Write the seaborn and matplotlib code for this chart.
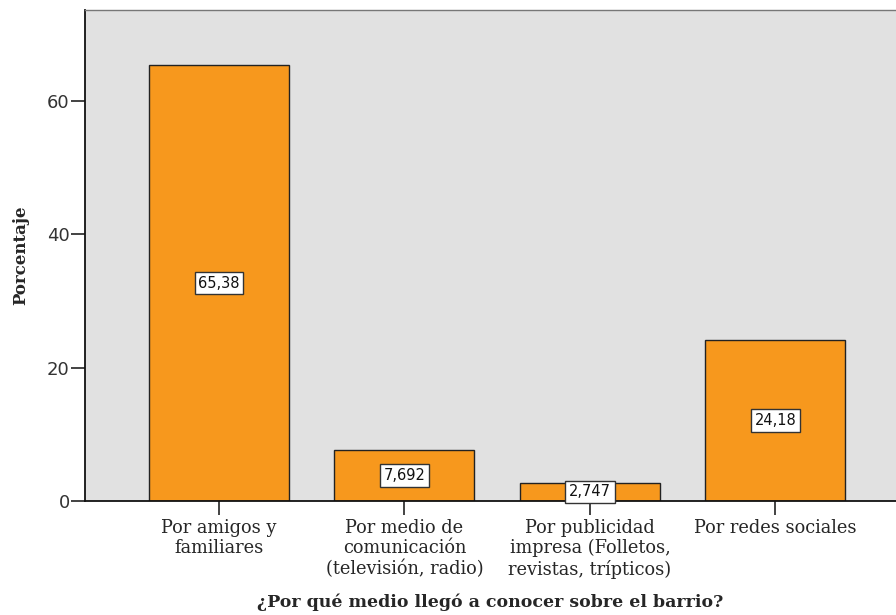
import matplotlib
matplotlib.use("Agg")
import matplotlib.pyplot as plt
import seaborn as sns
import pandas as pd

categories = ["Por amigos y\nfamiliares",
              "Por medio de\ncomunicación\n(televisión, radio)",
              "Por publicidad\nimpresa (Folletos,\nrevistas, trípticos)",
              "Por redes sociales"]
values = [65.38, 7.692, 2.747, 24.18]
value_labels = ["65,38", "7,692", "2,747", "24,18"]
yticks = [0, 20, 40, 60]

df = pd.DataFrame({"cat": categories, "val": values})

sns.set_style("white")
fig = plt.figure(figsize=(8.96, 6.15), dpi=100)
ax = fig.add_axes([85/896, 114/615, 1 - 85/896, (501-10)/615])
ax.set_facecolor("#E1E1E1")

sns.barplot(data=df, x="cat", y="val", color="#F7981D", saturation=1,
            edgecolor="#222222", linewidth=1.0, width=0.755, ax=ax)

for cont in ax.containers:
    ax.bar_label(cont, labels=value_labels, label_type="center",
                 fontsize=10.5, family="DejaVu Sans", color="#111111",
                 bbox=dict(boxstyle="square,pad=0.25", fc="white", ec="#333333", lw=1))

ax.set_xlim(-0.722, 3.65)
ax.set_ylim(0, 73.65)
ax.set_yticks(yticks)
ax.set_yticklabels([str(t) for t in yticks], fontsize=13, color="#333333", family="DejaVu Sans")
ax.set_xticks(range(len(categories)))
ax.set_xticklabels(categories, fontsize=12.8, family="DejaVu Serif", linespacing=1.15)
ax.tick_params(axis="both", direction="out", length=10, width=1.2, color="#222222",
               bottom=True, left=True)
ax.tick_params(axis="x", pad=3)
ax.tick_params(axis="y", pad=1)

for s in ["left", "bottom"]:
    ax.spines[s].set_color("#111111")
    ax.spines[s].set_linewidth(1.3)
ax.spines["top"].set_color("#777777")
ax.spines["top"].set_linewidth(1.0)
ax.spines["right"].set_visible(False)

ax.set_xlabel("¿Por qué medio llegó a conocer sobre el barrio?", fontsize=12.5,
              fontweight="bold", family="DejaVu Serif", labelpad=11)
ax.set_ylabel("Porcentaje", fontsize=12, fontweight="bold", family="DejaVu Serif", labelpad=13)

fig.savefig("out.png", dpi=100)
